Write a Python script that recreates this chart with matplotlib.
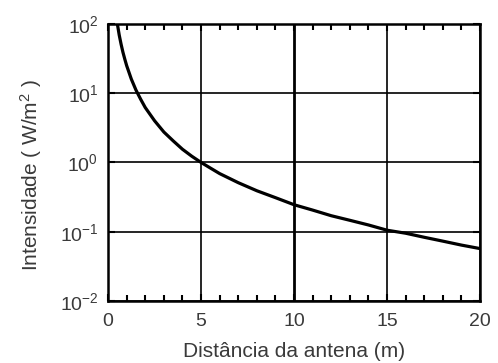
import matplotlib
matplotlib.use('Agg')
import matplotlib.pyplot as plt
from matplotlib.ticker import MultipleLocator, LogFormatterMathtext

plt.rcParams['font.family'] = ['Liberation Sans', 'DejaVu Sans']
plt.rcParams['mathtext.fontset'] = 'custom'
plt.rcParams['mathtext.rm'] = 'Liberation Sans'
plt.rcParams['mathtext.default'] = 'regular'

# distance (m) and intensity (W/m^2)
distancia = [0.5, 0.6, 0.7, 0.8, 0.9, 1.0, 1.25, 1.5, 1.75, 2.0, 2.5, 3.0,
             3.5, 4.0, 4.5, 5.0, 5.5, 6.0, 7.0, 8.0, 9.0, 10.0, 11.0, 12.0,
             13.0, 14.0, 15.0, 16.0, 17.0, 18.0, 19.0, 20.0]
intensidade = [100, 69, 51, 39, 31, 25, 16, 11.1, 8.2, 6.2, 4.0, 2.75,
               2.05, 1.55, 1.23, 1.0, 0.83, 0.69, 0.51, 0.39, 0.31, 0.245,
               0.205, 0.17, 0.146, 0.125, 0.105, 0.095, 0.083, 0.073, 0.064, 0.057]

x_ticks = [0, 5, 10, 15, 20]
y_ticks = [1e-2, 1e-1, 1e0, 1e1, 1e2]

fig = plt.figure(figsize=(4.98, 3.63), dpi=100)
ax = fig.add_axes([0.217, 0.171, 0.747, 0.763])

ax.plot(distancia, intensidade, color='black', linewidth=2.3,
        solid_joinstyle='round')

ax.set_yscale('log')
ax.set_xlim(0, 20)
ax.set_ylim(1e-2, 1e2)
ax.set_xticks(x_ticks)
ax.set_yticks(y_ticks)
ax.xaxis.set_minor_locator(MultipleLocator(1))
ax.yaxis.set_minor_locator(plt.NullLocator())
ax.yaxis.set_major_formatter(LogFormatterMathtext())

ax.grid(True, which='major', color='black', linewidth=1.2)
ax.get_xgridlines()[2].set_linewidth(2.0)

ax.tick_params(which='both', direction='in', top=True, right=True,
               colors='black', labelcolor='#3a3a3a', labelsize=14)
ax.tick_params(which='major', length=5, width=1.5)
ax.tick_params(axis='x', which='major', pad=9)
ax.tick_params(axis='y', which='major', pad=7)
ax.tick_params(which='minor', length=4, width=1.5)

for s in ax.spines.values():
    s.set_linewidth(1.8)

ax.set_xlabel('Distância da antena (m)', fontsize=15, color='#3a3a3a')
ax.set_ylabel('Intensidade ( W/m$^2$ )', fontsize=15, color='#3a3a3a')
ax.xaxis.set_label_coords(0.5, -0.148)
ax.yaxis.set_label_coords(-0.172, 0.455)

fig.savefig('out.png', dpi=100)
